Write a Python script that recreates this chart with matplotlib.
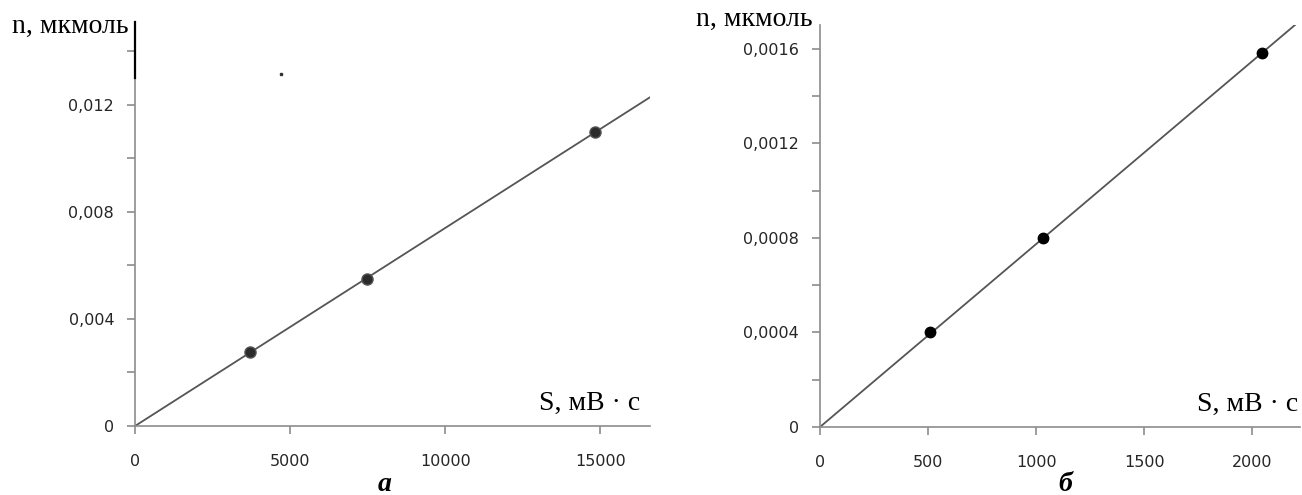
import matplotlib.pyplot as plt
import numpy as np

# calibration data: peak area S (mV*s) vs amount n (umol)
s_a = [3710, 7480, 14840]
n_a = [0.00275, 0.0055, 0.011]
s_b = [510, 1030, 2045]
n_b = [0.0004, 0.0008, 0.00158]

yt_a = [0, 0.004, 0.008, 0.012]
yt_a_lbl = ["0", "0,004", "0,008", "0,012"]
xt_a = [0, 5000, 10000, 15000]

yt_b = [0, 0.0004, 0.0008, 0.0012, 0.0016]
yt_b_lbl = ["0", "0,0004", "0,0008", "0,0012", "0,0016"]
xt_b = [0, 500, 1000, 1500, 2000]

AXIS = "#8c8c8c"
LINE = "#555555"
TICK = "#262626"
SERIF = "Liberation Serif"

fig = plt.figure(figsize=(13.02, 4.95), dpi=100, facecolor="white")
ax_a = fig.add_axes([0.1037, 0.1394, 0.3955, 0.8162])
ax_b = fig.add_axes([0.6298, 0.1374, 0.3687, 0.8121])


def origin_fit(x, y):
    x = np.asarray(x, float)
    y = np.asarray(y, float)
    return (x * y).sum() / (x * x).sum()


def setup(ax, xmax, ymax, xt, yt, ylbl, yminor):
    ax.set_xlim(0, xmax)
    ax.set_ylim(0, ymax)
    for side in ("top", "right"):
        ax.spines[side].set_visible(False)
    for side in ("left", "bottom"):
        ax.spines[side].set_color(AXIS)
        ax.spines[side].set_linewidth(1.2)
    ax.set_xticks(xt)
    ax.set_xticklabels([str(v) for v in xt])
    ax.set_yticks(yt)
    ax.set_yticklabels(ylbl)
    ax.set_yticks(yminor, minor=True)
    ax.tick_params(axis="both", which="both", direction="out", length=6,
                   width=1.2, color=AXIS, labelcolor=TICK, labelsize=11.5)
    ax.tick_params(axis="y", which="both", pad=9)
    ax.tick_params(axis="x", pad=14)


# --- panel a ---
xmax_a, ymax_a = 16600, 0.0151
setup(ax_a, xmax_a, ymax_a, xt_a, yt_a, yt_a_lbl, [0.002, 0.006, 0.010, 0.014])
k_a = origin_fit(s_a, n_a)
ax_a.plot([0, xmax_a], [0, k_a * xmax_a], color=LINE, lw=1.3, zorder=2)
ax_a.plot(s_a, n_a, "o", ms=8, color="#2b2b2b", mec="#555555", mew=1, zorder=3)
ax_a.plot([0, 0], [0.013, ymax_a], color="black", lw=1.6, clip_on=False, zorder=4)
ax_a.plot([4710], [0.01316], "s", ms=1.8, color="#333333", zorder=4)

ax_a.text(-0.013, 0.99, "n, мкмоль", transform=ax_a.transAxes, ha="right", va="center",
          fontsize=20, family=SERIF, color="black")
ax_a.text(0.981, 0.057, "S, мВ · с", transform=ax_a.transAxes, ha="right", va="center",
          fontsize=20, family=SERIF, color="black")
fig.text(385 / 1302, 0.022, "а", ha="center", va="center",
         fontsize=20, family=SERIF, fontweight="bold", fontstyle="italic")

# --- panel b ---
xmax_b, ymax_b = 2220, 0.0017
setup(ax_b, xmax_b, ymax_b, xt_b, yt_b, yt_b_lbl, [0.0002, 0.0006, 0.0010, 0.0014])
k_b = origin_fit(s_b, n_b)
ax_b.plot([0, xmax_b], [0, k_b * xmax_b], color=LINE, lw=1.3, zorder=2)
ax_b.plot(s_b, n_b, "o", ms=7.5, color="black", zorder=3)

ax_b.text(-0.016, 1.013, "n, мкмоль", transform=ax_b.transAxes, ha="right", va="center",
          fontsize=20, family=SERIF, color="black")
ax_b.text(0.995, 0.057, "S, мВ · с", transform=ax_b.transAxes, ha="right", va="center",
          fontsize=20, family=SERIF, color="black")
fig.text(1065 / 1302, 0.022, "б", ha="center", va="center",
         fontsize=20, family=SERIF, fontweight="bold", fontstyle="italic")

fig.savefig("out.png", dpi=100, facecolor="white")
